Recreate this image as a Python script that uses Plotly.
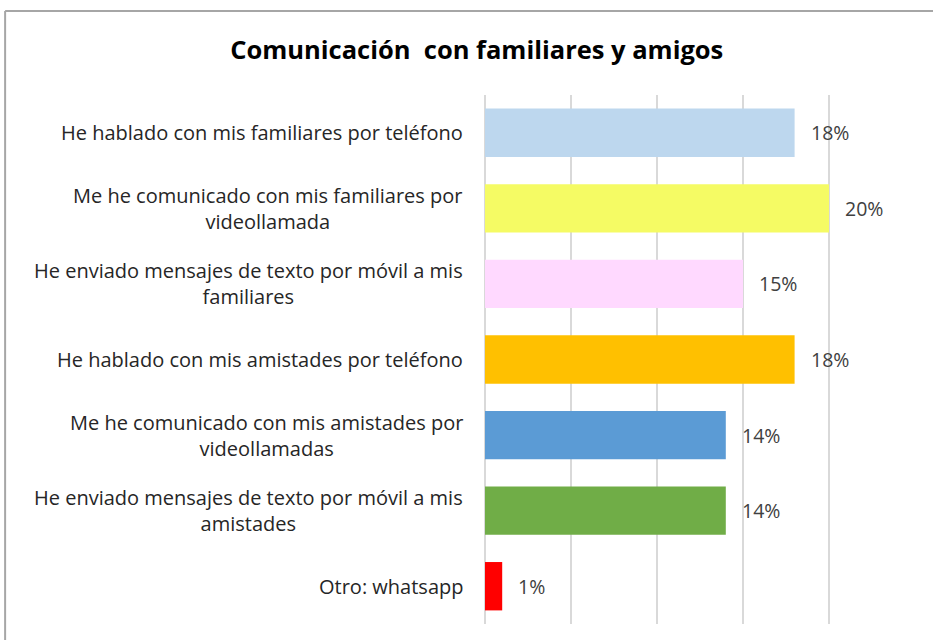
import plotly.graph_objects as go

# datos
categorias = [
    "He hablado con mis familiares por teléfono",
    "Me he comunicado con mis familiares por<br>videollamada",
    "He enviado mensajes de texto por móvil a mis<br>familiares",
    "He hablado con mis amistades por teléfono",
    "Me he comunicado con mis amistades por<br>videollamadas",
    "He enviado mensajes de texto por móvil a mis<br>amistades",
    "Otro: whatsapp",
]
valores = [18, 20, 15, 18, 14, 14, 1]
etiquetas = ["18%", "20%", "15%", "18%", "14%", "14%", "1%"]
colores = ["#BDD7EE", "#F5FB64", "#FFD9FF", "#FFC000", "#5B9BD5", "#70AD47", "#FF0000"]

fuente = "Open Sans"
ids = [str(i) for i in range(len(categorias))]

fig = go.Figure(go.Bar(
    x=valores, y=ids, orientation="h",
    marker=dict(color=colores, line=dict(width=0)),
    hoverinfo="skip",
))

for i, (v, t, c) in enumerate(zip(valores, etiquetas, categorias)):
    fig.add_annotation(x=v, y=ids[i], xref="x", yref="y", text=t, showarrow=False,
                       xanchor="left", xshift=14,
                       font=dict(family=fuente, size=19.5, color="#404040"))
    fig.add_annotation(x=0, y=ids[i], xref="paper", yref="y", text=c, showarrow=False,
                       xanchor="right", xshift=-20, align="center",
                       font=dict(family=fuente, size=20, color="#262626"))

# marco del grafico
fig.add_shape(type="line", xref="paper", yref="paper", x0=-1.116, x1=1.2, y0=1.159, y1=1.159,
              line=dict(color="#A6A6A6", width=2))
fig.add_shape(type="line", xref="paper", yref="paper", x0=-1.116, x1=-1.116, y0=1.159, y1=-0.1,
              line=dict(color="#A6A6A6", width=2))

fig.update_layout(
    width=933, height=640,
    margin=dict(l=485, r=18, t=95, b=16),
    paper_bgcolor="white", plot_bgcolor="white",
    title=dict(text="<b>Comunicación  con familiares y amigos</b>", x=0.511, xanchor="center",
               y=0.921, yanchor="middle",
               font=dict(family=fuente, size=25.5, color="black")),
    bargap=0.36,
    showlegend=False,
    xaxis=dict(range=[0, 25], dtick=5, showgrid=True, gridcolor="#D9D9D9", gridwidth=2,
               showticklabels=False, zeroline=True, zerolinecolor="#D9D9D9", zerolinewidth=2,
               fixedrange=True),
    yaxis=dict(autorange="reversed", showticklabels=False, showgrid=False, fixedrange=True),
)

# la pagina trae 8px de margen en el body; lo quitamos para que cuadre con la ventana
fig.write_html("out.html", config={"displayModeBar": False},
               post_script="document.body.style.margin='0';document.body.style.overflow='hidden';")
